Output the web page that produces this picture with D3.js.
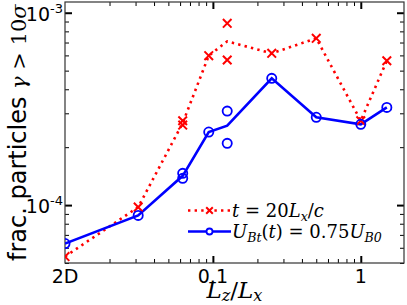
<!DOCTYPE html>
<html>
<head>
<meta charset="utf-8">
<script src="https://cdn.jsdelivr.net/npm/d3@7"></script>
<style>
  body { margin: 0; background: #fff; }
  svg { display: block; }
</style>
</head>
<body>
<script>
// box size (Lz/Lx); the 2D run sits at the left edge, 0.01
var lz = [0.01, 1/32, 1/16, 3/32, 1/8, 1/4, 1/2, 1, 1.5];
// lines (mean of the runs)
var redLine  = [5.4e-5, 9.76e-5, 2.67e-4, 5.98e-4, 7.1e-4, 6.15e-4, 7.36e-4, 2.745e-4, 5.63e-4];
var blueLine = [6.31e-5, 8.84e-5, 1.42e-4, 2.397e-4, 2.585e-4, 4.56e-4, 2.86e-4, 2.63e-4, 3.22e-4];
// individual runs (markers)
var runLz    = [0.01, 1/32, 1/16, 1/16, 3/32, 1/8, 1/8, 1/4, 1/2, 1, 1.5];
var redRuns  = [5.4e-5, 9.76e-5, 2.745e-4, 2.606e-4, 5.98e-4, 8.81e-4, 5.68e-4, 6.15e-4, 7.36e-4, 2.745e-4, 5.63e-4];
var blueRuns = [6.31e-5, 8.84e-5, 1.462e-4, 1.377e-4, 2.397e-4, 3.08e-4, 2.094e-4, 4.56e-4, 2.86e-4, 2.63e-4, 3.22e-4];

var xMajor = [0.01, 0.1, 1];
var xMajorLabels = ["2D", "0.1", "1"];
var xMinor = [0.02,0.03,0.04,0.05,0.06,0.07,0.08,0.09,0.2,0.3,0.4,0.5,0.6,0.7,0.8,0.9];
var yMajor = [1e-4, 1e-3];
var yMajorExp = ["-4", "-3"];
var yMinor = [5e-5,6e-5,7e-5,8e-5,9e-5,2e-4,3e-4,4e-4,5e-4,6e-4,7e-4,8e-4,9e-4];

var W = 407, H = 305;
var L = 65, R = 404, T = 2, B = 263;

var svg = d3.select("body").append("svg")
    .attr("width", W).attr("height", H);

var x = d3.scaleLog().domain([0.01, 1.96]).range([L, R]);
var y = d3.scaleLog().domain([5e-5, 1.137e-3]).range([B, T]);

svg.append("clipPath").attr("id", "plot")
  .append("rect").attr("x", L).attr("y", T).attr("width", R - L).attr("height", B - T);

// ticks on all four sides, pointing in
function ticks(axis, vals, size, w, tr) {
  var g = svg.append("g").attr("transform", tr)
    .call(axis.tickValues(vals).tickSizeInner(size).tickSizeOuter(0).tickFormat(""));
  g.select(".domain").remove();
  g.selectAll("line").attr("stroke", "#000").attr("stroke-width", w);
  return g;
}
ticks(d3.axisBottom(x), xMinor, -4, 1, "translate(0," + B + ")");
ticks(d3.axisBottom(x), [0.1, 1], -7, 2, "translate(0," + B + ")");
ticks(d3.axisTop(x), xMinor, -4, 1, "translate(0," + T + ")");
ticks(d3.axisTop(x), [0.1, 1], -7, 2, "translate(0," + T + ")");
ticks(d3.axisLeft(y), yMinor, -4, 1, "translate(" + L + ",0)");
ticks(d3.axisLeft(y), yMajor, -7, 2, "translate(" + L + ",0)");
ticks(d3.axisRight(y), yMinor, -4, 1, "translate(" + R + ",0)");
ticks(d3.axisRight(y), yMajor, -7, 2, "translate(" + R + ",0)");

svg.append("rect").attr("x", L).attr("y", T).attr("width", R - L).attr("height", B - T)
  .attr("fill", "none").attr("stroke", "#333").attr("stroke-width", 1.2);

// tick labels
svg.selectAll(".xl").data(xMajor).enter().append("text")
  .attr("x", d => x(d)).attr("y", B + 20)
  .attr("text-anchor", "middle")
  .style("font", "19px 'DejaVu Sans'")
  .text((d, i) => xMajorLabels[i]);

var yl = svg.selectAll(".yl").data(yMajor).enter().append("text")
  .attr("x", L - 2).attr("y", d => y(d) + 8)
  .attr("text-anchor", "end")
  .style("font", "19px 'DejaVu Sans'");
yl.append("tspan").text("10");
yl.append("tspan").attr("dy", -8).style("font-size", "13px").text((d, i) => yMajorExp[i]);

// data
var plot = svg.append("g").attr("clip-path", "url(#plot)");
var line = d3.line().x(d => x(d[0])).y(d => y(d[1]));

plot.append("path").datum(d3.zip(lz, redLine)).attr("d", line)
  .attr("fill", "none").attr("stroke", "#ff0000").attr("stroke-width", 2.6)
  .attr("stroke-dasharray", "2.4,4.2");
plot.append("path").datum(d3.zip(lz, blueLine)).attr("d", line)
  .attr("fill", "none").attr("stroke", "#0000ff").attr("stroke-width", 2.6);

function cross(g, cx, cy, s) {
  g.append("path")
    .attr("d", "M" + (cx - s) + "," + (cy - s) + "L" + (cx + s) + "," + (cy + s) +
               "M" + (cx - s) + "," + (cy + s) + "L" + (cx + s) + "," + (cy - s))
    .attr("stroke", "#ff0000").attr("stroke-width", 2).attr("fill", "none");
}
d3.zip(runLz, redRuns).forEach(d => cross(plot, x(d[0]), y(d[1]), 4.3));
plot.selectAll(".bc").data(d3.zip(runLz, blueRuns)).enter().append("circle")
  .attr("cx", d => x(d[0])).attr("cy", d => y(d[1])).attr("r", 4.6)
  .attr("fill", "none").attr("stroke", "#0000ff").attr("stroke-width", 1.8);

// legend
var lg = svg.append("g");
lg.append("line").attr("x1", 188).attr("x2", 231).attr("y1", 210.5).attr("y2", 210.5)
  .attr("stroke", "#ff0000").attr("stroke-width", 2.6).attr("stroke-dasharray", "2.4,4.2");
cross(lg, 209.5, 210.5, 3.3);
lg.append("line").attr("x1", 188).attr("x2", 231).attr("y1", 231.5).attr("y2", 231.5)
  .attr("stroke", "#0000ff").attr("stroke-width", 2.6);
lg.append("circle").attr("cx", 209.5).attr("cy", 231.5).attr("r", 3)
  .attr("fill", "#fff").attr("stroke", "#0000ff").attr("stroke-width", 1.8);

function mathText(px, py, size, parts) {
  var t = svg.append("text").attr("x", px).attr("y", py)
    .style("font-family", "'DejaVu Serif'").style("font-size", size + "px");
  parts.forEach(function(p) {
    var s = t.append("tspan").text(p.t);
    if (p.i) s.style("font-style", "italic");
    if (p.sub) s.attr("dy", p.sub);
    if (p.small) s.style("font-size", (size * 0.7) + "px");
  });
  return t;
}
mathText(232, 217, 18, [
  {t: "t", i: 1}, {t: " = 20"}, {t: "L", i: 1}, {t: "x", i: 1, sub: 4, small: 1}, {t: "/", sub: -4}, {t: "c", i: 1}
]);
mathText(232, 238, 18, [
  {t: "U", i: 1}, {t: "Bt", i: 1, sub: 4, small: 1}, {t: "(", sub: -4}, {t: "t", i: 1}, {t: ") = 0.75"},
  {t: "U", i: 1}, {t: "B0", i: 1, sub: 4, small: 1}
]);

// axis titles
mathText(234.5, 298, 23, [
  {t: "L", i: 1}, {t: "z", i: 1, sub: 3, small: 1}, {t: "/", sub: -3}, {t: "L", i: 1}, {t: "x", i: 1, sub: 3, small: 1}
]).attr("text-anchor", "middle");

var yt = svg.append("text")
  .attr("transform", "translate(26,261) rotate(-90)")
  .style("font", "24px 'DejaVu Sans'");
yt.append("tspan").text("frac. particles ");
yt.append("tspan").style("font-family", "'DejaVu Serif'").style("font-style", "italic").style("font-size", "21px").text("γ");
yt.append("tspan").style("font-family", "'DejaVu Serif'").style("font-size", "21px").text(" > 10");
yt.append("tspan").style("font-family", "'DejaVu Serif'").style("font-style", "italic").style("font-size", "21px").text("σ");
</script>
</body>
</html>
